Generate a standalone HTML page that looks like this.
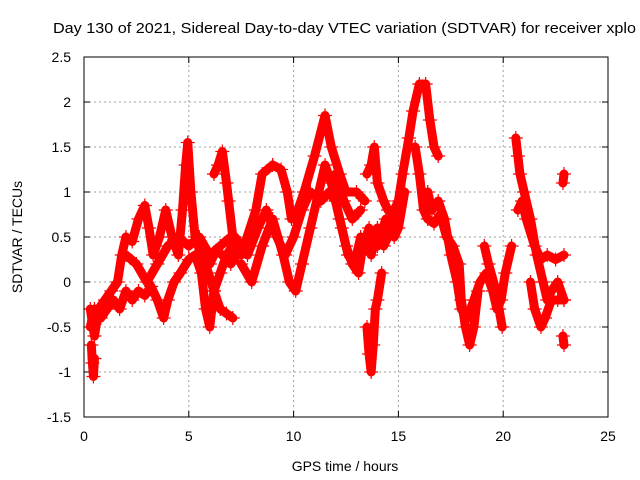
<!DOCTYPE html>
<html><head><meta charset="utf-8"><style>
body{margin:0;background:#fff;width:640px;height:480px;overflow:hidden}
svg{display:block;font-family:"Liberation Sans",sans-serif}
</style></head><body>
<svg id="chart" width="640" height="480">
<text x="53" y="33" font-size="15" textLength="583" lengthAdjust="spacingAndGlyphs">Day 130 of 2021, Sidereal Day-to-day VTEC variation (SDTVAR) for receiver xplo</text>
<g id="grid"></g>
<g id="ticks"></g>
<g id="series"></g>
<rect x="84" y="57" width="524" height="360" fill="none" stroke="#000" stroke-width="1"/>
<text x="345" y="471" font-size="14" text-anchor="middle">GPS time / hours</text>
<text transform="translate(22,237) rotate(-90)" font-size="14" text-anchor="middle">SDTVAR / TECUs</text>
</svg>
<script>
const xTicks=[0,5,10,15,20,25];
const yTicks=[-1.5,-1,-0.5,0,0.5,1,1.5,2,2.5];
const track1=[[0.3,-0.3],[0.5,-0.6],[0.7,-0.3],[1.0,-0.2],[1.3,-0.1],[1.6,0.0],[1.8,0.3],[2.0,0.5],[2.3,0.45],[2.6,0.7],[2.9,0.85],[3.1,0.6],[3.3,0.3],[3.6,0.5],[3.9,0.8],[4.2,0.5],[4.5,0.3],[4.7,0.8],[4.85,1.3],[4.95,1.55],[5.1,1.0],[5.3,0.5],[5.6,0.3],[6.0,0.2],[6.3,0.35],[6.6,0.3],[7.0,0.2],[7.3,0.3]];
const track2=[[0.3,-0.5],[0.5,-0.3],[0.8,-0.4],[1.1,-0.3],[1.4,-0.2],[1.7,-0.3],[2.0,-0.1],[2.3,-0.2],[2.6,-0.1],[2.9,-0.15],[3.2,-0.05],[3.5,-0.2],[3.8,-0.4],[4.0,-0.2],[4.3,0.0],[4.6,0.1],[5.0,0.25],[5.3,0.3],[5.6,0.1],[5.8,-0.3],[6.0,-0.5],[6.2,-0.1],[6.5,0.1],[6.8,0.3],[7.1,0.4]];
const track3=[[0.35,-0.7],[0.4,-0.9],[0.45,-1.05],[0.5,-0.85]];
const track4=[[6.2,1.2],[6.4,1.3],[6.6,1.45],[6.8,1.1],[6.9,0.9],[7.1,0.5],[7.3,0.3]];
const track5=[[5.5,0.4],[5.8,0.2],[6.2,-0.1],[6.5,-0.3],[6.8,-0.35],[7.1,-0.4]];
const track6=[[7.5,0.3],[8.2,0.8],[8.5,1.2],[9.0,1.3],[9.4,1.25],[9.7,1.0],[9.9,0.7],[10.2,0.8],[10.5,1.0],[11.0,1.4],[11.5,1.85],[11.8,1.5],[12.2,1.2],[12.5,1.0],[13.0,1.0],[13.4,0.9]];
const track7=[[7.5,0.2],[8.0,0.0],[8.5,0.4],[9.0,0.7],[9.5,0.3],[9.8,0.0],[10.1,-0.1],[10.4,0.2],[10.8,0.6],[11.2,1.0],[11.5,1.3],[11.8,1.1],[12.2,0.7],[12.5,0.4],[12.8,0.2],[13.1,0.1],[13.3,0.4]];
const track8=[[7.2,0.5],[7.8,0.3],[8.3,0.6],[8.7,0.8],[9.2,0.5],[9.6,0.3],[10.0,0.5],[10.4,0.8],[10.8,1.0],[11.3,0.9],[11.7,1.0],[12.0,0.9],[12.3,0.6],[12.6,0.3],[12.9,0.2],[13.2,0.5]];
const track9=[[13.5,1.2],[13.7,1.3],[13.85,1.5],[14.0,1.1],[14.3,0.9],[14.5,0.8]];
const track10=[[13.5,-0.5],[13.6,-0.8],[13.7,-1.0],[13.8,-0.7],[13.9,-0.3],[14.0,-0.2],[14.2,0.1]];
const track11=[[13.4,0.5],[13.7,0.3],[14.0,0.6],[14.3,0.4],[14.5,0.5],[14.8,0.8],[15.0,0.9],[15.2,1.2],[15.5,1.6],[15.7,1.9],[16.0,2.2],[16.3,2.2],[16.5,1.8],[16.7,1.5],[16.9,1.4]];
const track12=[[15.8,1.5],[16.0,1.2],[16.2,0.8],[16.4,0.7],[16.7,0.65],[17.0,0.75],[17.3,0.5],[17.6,0.4],[17.9,0.2],[18.0,-0.2],[18.2,-0.5],[18.4,-0.7],[18.6,-0.5],[18.8,-0.1]];
const track13=[[16.4,1.0],[16.6,0.8],[16.9,0.9],[17.2,0.7],[17.5,0.3],[17.8,0.0],[18.0,-0.3],[18.3,-0.4],[18.6,-0.2],[18.9,0.0],[19.2,0.1],[19.5,-0.1],[19.7,-0.3],[19.9,-0.2],[20.1,0.1],[20.4,0.4]];
const track14=[[19.1,0.4],[19.3,0.2],[19.6,-0.05],[19.8,-0.3],[19.95,-0.5]];
const track15=[[20.6,1.6],[20.7,1.4],[20.8,1.2],[21.0,1.0],[21.3,0.7],[21.6,0.3],[21.9,0.0],[22.1,-0.2],[22.3,-0.1],[22.6,0.0],[22.9,-0.2]];
const track16=[[20.7,0.8],[20.9,0.9],[21.1,0.7],[21.5,0.4],[21.8,0.25],[22.1,0.3],[22.5,0.25],[22.9,0.3]];
const track17=[[21.3,0.0],[21.5,-0.3],[21.8,-0.5],[22.0,-0.4],[22.3,-0.2],[22.6,-0.2],[22.9,-0.2]];
const track18=[[22.85,1.1],[22.9,1.2]];
const track19=[[22.85,-0.6],[22.9,-0.7]];
const track20=[[2.0,0.3],[2.5,0.2],[3.0,0.0],[3.5,0.2],[4.0,0.4],[4.5,0.5],[5.0,0.4],[5.5,0.5],[6.0,0.3],[6.5,0.4],[7.0,0.5]];
const track21=[[13.2,0.3],[13.6,0.6],[14.0,0.4],[14.4,0.7],[14.8,0.5],[15.0,0.6],[15.3,1.0]];
const track22=[[12.0,1.2],[12.4,0.9],[12.8,0.7],[13.2,0.8]];
const tracks=[track1,track2,track3,track4,track5,track6,track7,track8,track9,track10,track11,track12,track13,track14,track15,track16,track17,track18,track19,track20,track21,track22];
const NS='http://www.w3.org/2000/svg';
const X0=84,X1=608,Y0=417,Y1=57;
function sx(t){return X0+(t-0)/(25-0)*(X1-X0);}
function sy(v){return Y0-(v+1.5)/(4)*(Y0-Y1);}
const grid=document.getElementById('grid'),ticks=document.getElementById('ticks'),ser=document.getElementById('series');
function mk(tag,attrs,parent){const e=document.createElementNS(NS,tag);for(const k in attrs)e.setAttribute(k,attrs[k]);parent.appendChild(e);return e;}
xTicks.forEach(t=>{
  const x=sx(t);
  if(t>0&&t<25){const g=mk('line',{x1:x,x2:x,y1:Y0,y2:Y1,stroke:'#a0a0a0','stroke-dasharray':'2,3'},grid);
  
  }
  mk('line',{x1:x,x2:x,y1:Y0,y2:Y0-6,stroke:'#000'},ticks);
  mk('line',{x1:x,x2:x,y1:Y1,y2:Y1+6,stroke:'#000'},ticks);
  const l=mk('text',{x:x,y:Y0+24,'font-size':14,'text-anchor':'middle'},ticks);l.textContent=t;
  
  
});
yTicks.forEach(v=>{
  const y=sy(v);
  if(v>-1.5&&v<2.5){const g=mk('line',{x1:X0,x2:X1,y1:y,y2:y,stroke:'#a0a0a0','stroke-dasharray':'2,3'},grid);
  
  }
  mk('line',{x1:X0,x2:X0+6,y1:y,y2:y,stroke:'#000'},ticks);
  mk('line',{x1:X1,x2:X1-6,y1:y,y2:y,stroke:'#000'},ticks);
  const l=mk('text',{x:71,y:y+5,'font-size':14,'text-anchor':'end'},ticks);l.textContent=v;
  
  
});
tracks.forEach(tr=>{
  const pl=mk('polyline',{points:tr.map(p=>sx(p[0])+','+sy(p[1])).join(' '),fill:'none',stroke:'#ff0000','stroke-width':9,'stroke-linejoin':'round','stroke-linecap':'round'},ser);
  
  
  tr.forEach(p=>{
    const x=sx(p[0]),y=sy(p[1]);
    const m=mk('path',{d:`M${x-7},${y}H${x+7}M${x},${y-7}V${y+7}`,stroke:'#ff0000','stroke-width':1.2},ser);
    
    
  });
});
</script>
</body></html>
